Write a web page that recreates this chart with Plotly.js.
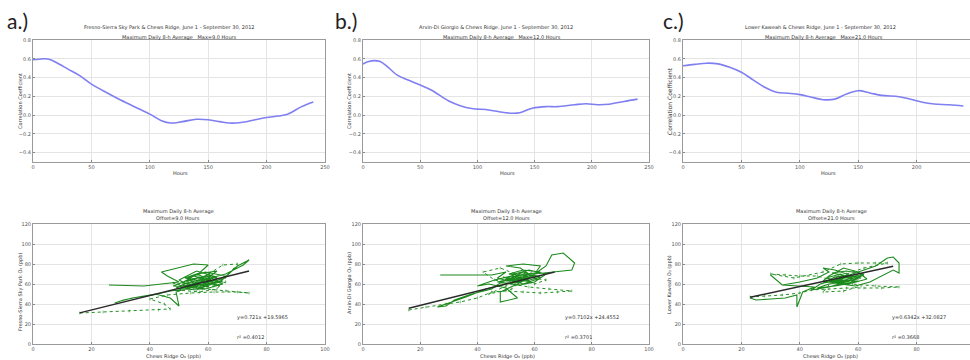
<!DOCTYPE html>
<html>
<head>
<meta charset="utf-8">
<script src="https://cdn.plot.ly/plotly-3.0.1.min.js"></script>
<style>html,body{margin:0;padding:0;background:#fff;}#chart{width:970px;height:360px;}</style>
</head>
<body>
<div id="chart"></div>
<script>
// ---------- DATA ----------
// Top row: correlation coefficient vs lag hours
const hoursA = [0,5,10,15,20,30,40,50,60,75,90,100,110,118,128,140,150,160,168,178,190,200,210,218,230,240];
const corrA  = [0.59,0.595,0.60,0.59,0.56,0.49,0.42,0.33,0.26,0.16,0.07,0.01,-0.06,-0.085,-0.07,-0.045,-0.05,-0.07,-0.085,-0.08,-0.05,-0.025,-0.01,0.01,0.09,0.14];

const hoursB = [0,5,10,15,20,30,40,50,60,75,85,95,110,120,130,137,148,160,170,185,195,205,215,228,240];
const corrB  = [0.545,0.57,0.58,0.57,0.53,0.425,0.37,0.32,0.265,0.15,0.10,0.07,0.055,0.033,0.02,0.025,0.073,0.09,0.09,0.11,0.12,0.11,0.115,0.145,0.17];

const hoursC = [0,10,20,30,40,50,60,70,80,90,100,110,120,130,140,150,160,170,185,195,205,215,228,240];
const corrC  = [0.525,0.54,0.553,0.546,0.51,0.457,0.375,0.296,0.243,0.232,0.218,0.19,0.164,0.17,0.225,0.26,0.236,0.21,0.196,0.168,0.136,0.118,0.11,0.096];

// Bottom row: site O3 vs Chews Ridge O3 (ppb), [x, y] pairs, daily path
const aSolid = [[26,59],[38,58],[50,62],[46,68],[44,72],[48,75],[55,80],[60,79],[57,71],[52,66],[58,63],[63,67],[56,73],[50,64],[54,58],[61,60],[66,68],[59,72],[53,66],[57,56],[64,62],[70,78],[74,84],[72,79],[66,70],[58,64],[54,57],[49,52],[50,38],[47,46],[42,50],[36,47],[31,44],[28,41],[30,43],[34,46],[41,49],[47,53],[53,55],[58,60],[62,63],[55,68],[51,61],[57,59],[63,65],[60,70],[56,62],[52,57],[59,55],[65,60],[61,66],
  [55,60],[60,57],[58,65],[52,60],[49,56],[56,54],[62,61],[57,67],[53,63],[60,69],[65,64],[59,58],[54,62],[51,59],[57,57],[61,64],[56,70],[63,73],[58,62],[55,58],[60,61],[64,58],[59,64],[53,57],[48,58],[54,65],[61,68],[57,61]];
const aDot   = [[16,31],[24,32],[33,33],[43,34],[47,35],[45,40],[40,45],[46,49],[54,51],[62,52],[70,52],[74,51],[66,53],[58,55],[52,57],[48,61],[55,56],[62,58],[66,62],[60,64],[55,60],[50,54],[57,52],[63,55],[67,70],[70,80],[65,79],[58,66],[52,62],[56,58]];

const bSolid = [[27,69],[45,69],[50,72],[47,66],[52,62],[58,70],[55,76],[50,78],[56,80],[62,78],[60,70],[66,72],[73,74],[74,81],[70,91],[66,89],[64,78],[58,66],[54,60],[48,52],[48,42],[54,46],[50,56],[44,60],[40,58],[46,64],[52,68],[57,63],[62,67],[56,72],[51,65],[47,62],[55,59],[60,62],[64,70],[58,74],[53,70],[49,63],[45,55],[38,50],[32,44],[29,38],[26,37],[30,41],[36,47],[43,55],[50,60],[56,64],
  [50,65],[55,62],[52,70],[58,68],[54,64],[49,67],[56,60],[61,65],[57,71],[52,66],[48,62],[55,67],[60,69],[53,61],[58,64],[51,70],[56,74],[62,72],[54,68],[50,63],[57,65],[59,61],[53,67],[55,71]];
const bDot   = [[16,34],[22,37],[29,40],[34,42],[40,46],[45,52],[50,53],[56,52],[62,51],[68,52],[73,53],[65,55],[58,57],[52,60],[46,64],[42,72],[48,76],[55,68],[60,60],[64,64],[57,67],[50,58],[44,50],[52,55],[59,72]];

const cSolid = [[23,46],[25,44],[30,45],[35,46],[39,49],[39,37],[41,52],[45,57],[34,59],[30,69],[34,59],[40,62],[46,66],[50,72],[48,76],[52,74],[56,70],[60,66],[55,62],[50,60],[46,56],[52,58],[58,61],[63,65],[60,72],[55,76],[50,68],[48,63],[54,60],[59,58],[64,62],[68,68],[72,74],[74,71],[74,81],[72,87],[70,86],[66,78],[60,72],[56,68],[52,64],[47,60],[44,54],[50,57],[57,63],[62,69],[58,66],[53,62],
  [50,63],[55,66],[52,61],[58,64],[54,70],[49,66],[56,62],[61,66],[57,69],[52,67],[48,61],[55,64],[60,63],[53,59],[58,67],[51,71],[56,73],[62,70],[54,65],[50,62],[57,60],[59,65],[53,68],[55,63]];
const cDot   = [[23,47],[28,48],[34,49],[40,51],[44,54],[50,55],[56,56],[62,56],[68,56],[74,57],[66,58],[58,60],[52,63],[46,68],[40,68],[35,69],[30,70],[38,66],[48,72],[54,80],[60,81],[66,81],[70,81],[62,76],[56,70],[52,66],[48,52],[55,53],[61,58]];

// Regression fits (slope, intercept, x extent)
const fitSlopes = [0.721, 0.7102, 0.6342];
const fitIntercepts = [19.5965, 24.4552, 32.0827];
const fitXRanges = [[16,74],[16,67],[23,72]];
const fitLabels = ["y=0.721x +19.5965","y=0.7102x +24.4552","y=0.6342x +32.0827"];
const r2Labels = ["r² =0.4012","r² =0.3701","r² =0.3668"];

const siteNames = ["Fresno-Sierra Sky Park","Arvin-Di Giorgio","Lower Kaweah"];
const maxHours = ["9.0","12.0","21.0"];
const panelLetters = ["a.)","b.)","c.)"];

// ---------- LAYOUT HELPERS ----------
const W = 970, H = 360;
const dx = (a,b) => [a/W, b/W];
const dy = (top,bot) => [1-bot/H, 1-top/H];
const px = x => x/W;
const py = y => 1 - y/H;

const tickFont = {family:"DejaVu Sans", size:5, color:"#555"};
function axis(domain, range, dtick, fmt, anchor, mirror) {
  return {
    domain: domain, range: range, dtick: dtick, tick0: 0, tickformat: fmt,
    anchor: anchor, showline: true, linecolor: "#9a9a9a", linewidth: 1,
    mirror: mirror, showgrid: true, gridcolor: "#e4e4e4", gridwidth: 1,
    zeroline: false, ticks: "inside", ticklen: 2, tickcolor: "#888",
    tickfont: tickFont, fixedrange: true
  };
}

const colX = [[33,325],[363,649],[683,970]];
const topY = [40,162], botY = [224,344];
const topRanges = [[0,250],[0,250],[0,245.7]];
const botRanges = [[0,100],[0,100],[0,98.3]];

const layout = {
  width: W, height: H, autosize: false,
  margin: {l:0, r:0, t:0, b:0},
  paper_bgcolor: "#fff", plot_bgcolor: "#fff",
  showlegend: false, annotations: []
};

const data = [];
const tops = [[hoursA,corrA],[hoursB,corrB],[hoursC,corrC]];
const solids = [aSolid,bSolid,cSolid];
const dots = [aDot,bDot,cDot];

for (let i = 0; i < 3; i++) {
  const tn = i + 1, bn = i + 4;
  const ts = (tn === 1 ? "" : String(tn));
  const cut = (i === 2);
  layout["xaxis" + ts] = axis(dx(colX[i][0], colX[i][1]), topRanges[i], 50, "d", "y" + ts, true);
  layout["yaxis" + ts] = axis(dy(topY[0], topY[1]), [-0.5, 0.8], 0.2, ".1f", "x" + ts, !cut);
  layout["xaxis" + bn] = axis(dx(colX[i][0], colX[i][1]), botRanges[i], 20, "d", "y" + bn, true);
  layout["yaxis" + bn] = axis(dy(botY[0], botY[1]), [0, 120], 20, "d", "x" + bn, !cut);

  data.push({
    x: tops[i][0], y: tops[i][1], type: "scatter", mode: "lines",
    line: {color: "#7f7ff2", width: 1.6, shape: "spline", smoothing: 1.0},
    xaxis: "x" + ts, yaxis: "y" + ts, hoverinfo: "skip"
  });
  data.push({
    x: dots[i].map(p => p[0]), y: dots[i].map(p => p[1]), type: "scatter", mode: "lines+markers",
    line: {color: "#1f8f1f", width: 1, dash: "dot"},
    marker: {symbol: "line-ns", size: 2, color: "#1f8f1f", line: {color: "#1f8f1f", width: 0.6}},
    xaxis: "x" + bn, yaxis: "y" + bn, hoverinfo: "skip"
  });
  data.push({
    x: solids[i].map(p => p[0]), y: solids[i].map(p => p[1]), type: "scatter", mode: "lines",
    line: {color: "#1c8a1c", width: 1.1},
    xaxis: "x" + bn, yaxis: "y" + bn, hoverinfo: "skip"
  });
  const fx = fitXRanges[i];
  data.push({
    x: fx, y: fx.map(v => fitSlopes[i] * v + fitIntercepts[i]), type: "scatter", mode: "lines",
    line: {color: "#2a2a2a", width: 1.5},
    xaxis: "x" + bn, yaxis: "y" + bn, hoverinfo: "skip"
  });
}

// ---------- TEXT ----------
function ann(text, x, y, size, opts) {
  layout.annotations.push(Object.assign({
    text: text, x: px(x), y: py(y), xref: "paper", yref: "paper",
    showarrow: false, xanchor: "center", yanchor: "middle",
    font: {family: "DejaVu Sans", size: size, color: "#333"}
  }, opts || {}));
}
const titleX1 = [169, 496, 820], titleX2 = [179, 502, 824];
const botTitleX = [178, 506, 831];
const hoursX = [180, 507, 828];
const chewsX = [173, 507, 830];
const yTitleX = [20, 349, 669];
const botYTitleY = [292, 283, 285];
const eqX = [235, 563, 890];
const letterX = [5, 333, 661];

for (let i = 0; i < 3; i++) {
  ann(siteNames[i] + " & Chews Ridge, June 1 - September 30, 2012", titleX1[i], 28, 5);
  ann("Maximum Daily 8-h Average   Max=" + maxHours[i] + " Hours", titleX2[i], 37.5, 5);
  ann("Hours", hoursX[i], 173, 5);
  ann("Correlation Coefficient", yTitleX[i], 101, i === 2 ? 6 : 5, {textangle: -90});
  ann("Maximum Daily 8-h Average", botTitleX[i], 211, 5);
  ann("Offset=" + maxHours[i] + " Hours", botTitleX[i], 218.5, 5);
  ann(siteNames[i] + " O₃ (ppb)", yTitleX[i], botYTitleY[i], 5, {textangle: -90});
  ann("Chews Ridge O₃ (ppb)", chewsX[i], 356.5, 5);
  ann(fitLabels[i], eqX[i], 317.5, 5, {xanchor: "left"});
  ann(r2Labels[i], eqX[i], 337, 5, {xanchor: "left"});
  ann(panelLetters[i], letterX[i], 20, 21, {xanchor: "left", font: {family: "Lato", size: 21, color: "#222"}});
}

Plotly.newPlot("chart", data, layout, {staticPlot: true, displayModeBar: false});
</script>
</body>
</html>
